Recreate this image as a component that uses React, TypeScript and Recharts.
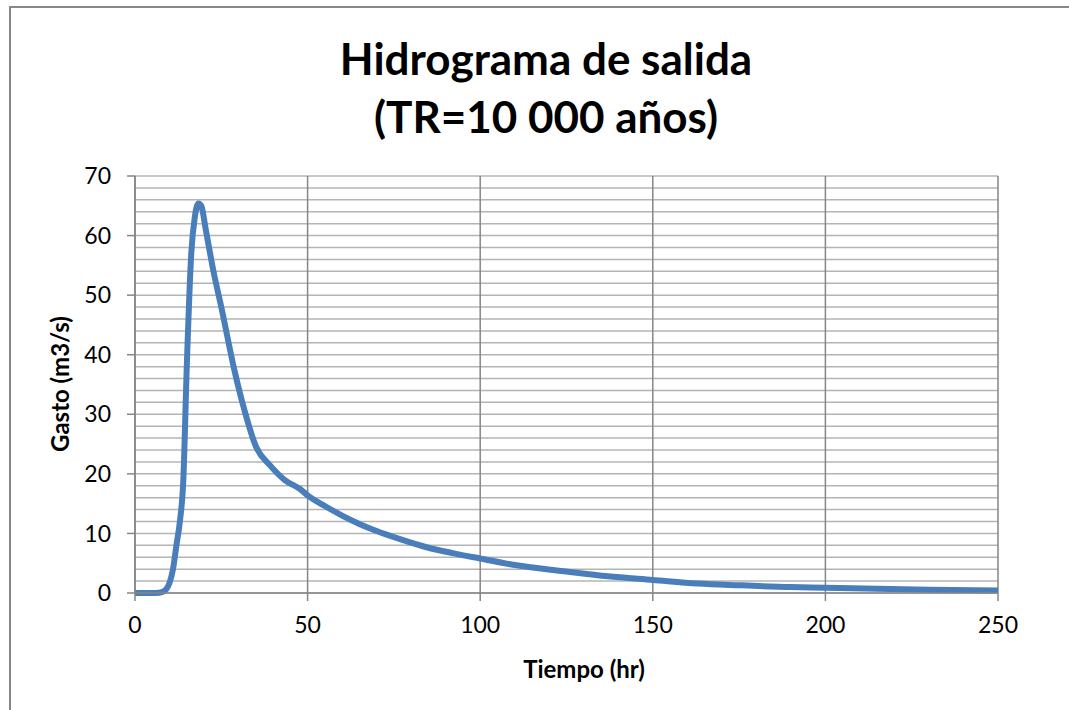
import { CartesianGrid, Line, LineChart, XAxis, YAxis } from "recharts";

// Tiempo (hr) vs Gasto (m3/s)
const tiempo = [
  0, 2, 4, 6, 8, 9, 10, 11, 12, 13, 14, 15, 16.3, 17.3, 18.4, 19.2, 20.5, 22.8,
  25, 28.8, 31.7, 35.1, 39, 43.3, 47.7, 50, 55, 60, 65, 70, 77, 85, 92, 100,
  110, 125, 137, 150, 163, 175, 190, 200, 215, 230, 250,
];
const gasto = [
  0, 0, 0, 0, 0.2, 0.6, 1.7, 4, 8, 12, 19, 38, 57, 63, 65.4, 65, 61, 53.8, 48,
  37.4, 30.7, 24.5, 21.5, 19, 17.5, 16.4, 14.6, 13.0, 11.6, 10.4, 9.0, 7.6, 6.7,
  5.8, 4.7, 3.6, 2.8, 2.2, 1.6, 1.3, 1.0, 0.9, 0.7, 0.55, 0.4,
];

const xTicks = [0, 50, 100, 150, 200, 250];
const yTicks = [0, 10, 20, 30, 40, 50, 60, 70];
// minor horizontal gridlines every 2 m3/s
const yMinorTicks = [
  0, 2, 4, 6, 8, 10, 12, 14, 16, 18, 20, 22, 24, 26, 28, 30, 32, 34, 36, 38,
  40, 42, 44, 46, 48, 50, 52, 54, 56, 58, 60, 62, 64, 66, 68, 70,
];

const data = tiempo.map((t, i) => ({ t, q: gasto[i] }));

const FONT = "Lato, 'Open Sans', sans-serif";
const AXIS = "#868686";

export default function App() {
  return (
    <div
      style={{
        position: "fixed",
        left: 0,
        top: 0,
        width: 1069,
        height: 710,
        overflow: "hidden",
        background: "#fff",
        fontFamily: FONT,
      }}
    >
      {/* chart frame, runs off the right and bottom edge */}
      <div
        style={{
          position: "absolute",
          left: 9,
          top: 6,
          width: 1200,
          height: 800,
          border: "2px solid #888",
        }}
      />
      <div
        style={{
          position: "absolute",
          left: 0,
          width: 1092,
          top: 29,
          textAlign: "center",
          fontWeight: 700,
          fontSize: 44,
          lineHeight: "58px",
          color: "#000",
        }}
      >
        Hidrograma de salida
        <br />
        (TR=10 000 años)
      </div>
      <div
        style={{
          position: "absolute",
          left: 584 - 100,
          width: 200,
          top: 669 - 15,
          height: 30,
          lineHeight: "30px",
          textAlign: "center",
          fontWeight: 700,
          fontSize: 24,
        }}
      >
        Tiempo (hr)
      </div>
      <div
        style={{
          position: "absolute",
          left: 60 - 100,
          top: 384 - 15,
          width: 200,
          height: 30,
          lineHeight: "30px",
          textAlign: "center",
          fontWeight: 700,
          fontSize: 24,
          transform: "rotate(-90deg)",
        }}
      >
        Gasto (m3/s)
      </div>
      <div style={{ position: "absolute", left: 0, top: 0 }}>
        <LineChart
          width={1069}
          height={710}
          data={data}
          margin={{ top: 176, right: 71, bottom: 77, left: 75 }}
        >
          <CartesianGrid
            vertical={false}
            horizontalValues={yMinorTicks}
            stroke="#b4b4b4"
            strokeWidth={1.5}
          />
          <CartesianGrid horizontal={false} stroke={AXIS} strokeWidth={1.5} />
          <XAxis
            dataKey="t"
            type="number"
            domain={[0, 250]}
            ticks={xTicks}
            interval={0}
            height={40}
            stroke={AXIS}
            strokeWidth={1.5}
            tickSize={8}
            tickMargin={16}
            tick={{ fill: "#000", fontSize: 23, fontFamily: FONT }}
          />
          <YAxis
            domain={[0, 70]}
            ticks={yTicks}
            interval={0}
            width={60}
            stroke={AXIS}
            strokeWidth={1.5}
            tickSize={8}
            tickMargin={16}
            tick={{ fill: "#000", fontSize: 23, fontFamily: FONT }}
          />
          <Line
            dataKey="q"
            type="monotone"
            stroke="#4a7ebb"
            strokeWidth={6}
            dot={false}
            isAnimationActive={false}
          />
        </LineChart>
      </div>
    </div>
  );
}
